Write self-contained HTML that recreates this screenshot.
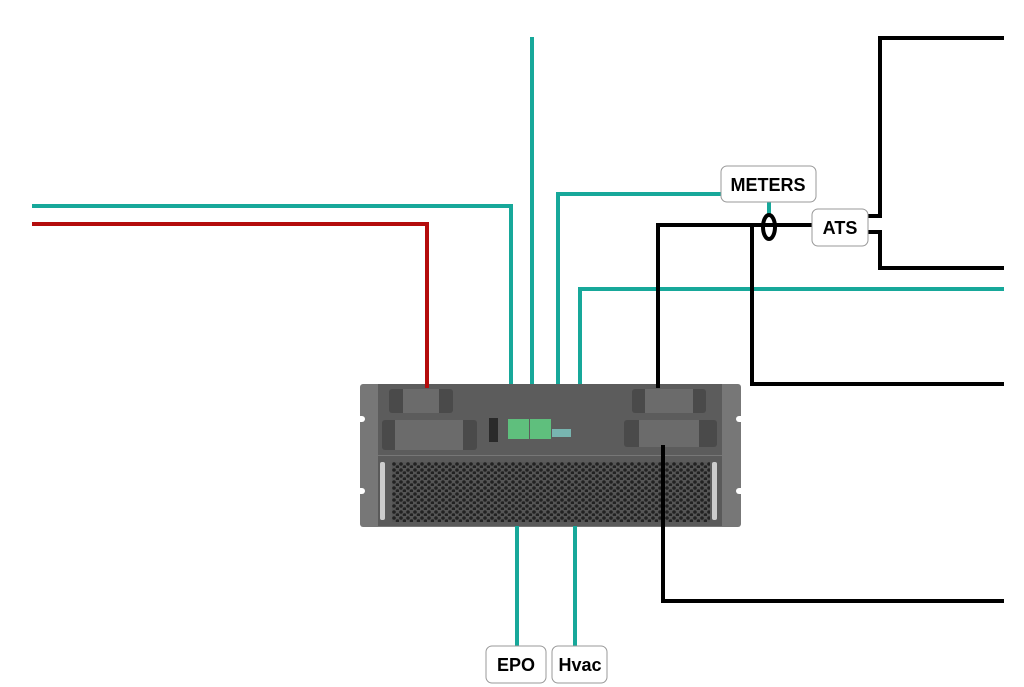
<!DOCTYPE html>
<html><head><style>body{margin:0;background:#fff}svg{display:block}text{font-family:"Liberation Sans",sans-serif;font-weight:bold}</style></head><body>
<svg width="1024" height="687" viewBox="0 0 1024 687">
<defs>
<pattern id="hex" width="7" height="6" patternUnits="userSpaceOnUse"><rect width="7" height="6" fill="#555"/><circle cx="2" cy="2" r="1.8" fill="#222"/><circle cx="5.5" cy="5" r="1.8" fill="#222"/></pattern>
</defs>
<!-- device -->
<rect x="360" y="384" width="381" height="143" rx="3" fill="#777"/>
<rect x="378" y="384" width="344" height="71" fill="#5c5c5c"/>
<rect x="378" y="456" width="344" height="70" fill="#5a5a5a"/>
<rect x="392" y="462" width="318" height="60" fill="url(#hex)"/>
<rect x="380" y="462" width="5" height="58" rx="2" fill="#ccc"/>
<rect x="712" y="462" width="5" height="58" rx="2" fill="#ccc"/>
<g fill="#fff"><rect x="355" y="416" width="10" height="6" rx="3"/><rect x="355" y="488" width="10" height="6" rx="3"/><rect x="736" y="416" width="10" height="6" rx="3"/><rect x="736" y="488" width="10" height="6" rx="3"/></g>
<rect x="389" y="389" width="64" height="24" rx="3" fill="#4a4a4a"/>
<rect x="403" y="389" width="36" height="24" fill="#6b6b6b"/>
<rect x="382" y="420" width="95" height="30" rx="3" fill="#4a4a4a"/>
<rect x="395" y="420" width="68" height="30" fill="#6b6b6b"/>
<rect x="632" y="389" width="74" height="24" rx="3" fill="#4a4a4a"/>
<rect x="645" y="389" width="48" height="24" fill="#6b6b6b"/>
<rect x="624" y="420" width="93" height="27" rx="3" fill="#4a4a4a"/>
<rect x="639" y="420" width="60" height="27" fill="#6b6b6b"/>
<rect x="489" y="418" width="9" height="24" fill="#2a2a2a"/>
<rect x="508" y="419" width="21" height="20" fill="#5fbf7d"/>
<rect x="530" y="419" width="21" height="20" fill="#5fbf7d"/>
<rect x="552" y="429" width="19" height="8" fill="#78b5b0"/>
<g fill="none" stroke-width="4">
<path d="M32 206H511V384M532 37V384M721 194H558V384M1004 289H580V384M769 202V214M517 526V648M575 526V648" stroke="#17a89a"/>
<path d="M32 224H427V388" stroke="#b40c0c"/>
<path d="M658 388V225H812M752 225V384H1004M868 216H880V38H1004M868 232H880V268H1004M663 445V601H1004" stroke="#000"/>
</g>
<ellipse cx="769" cy="227" rx="6" ry="12" fill="none" stroke="#000" stroke-width="4"/>
<g fill="#fff" stroke="#999" stroke-width="1">
<rect x="721" y="166" width="95" height="36" rx="6"/>
<rect x="812" y="209" width="56" height="37" rx="6"/>
<rect x="486" y="646" width="60" height="37" rx="6"/>
<rect x="552" y="646" width="55" height="37" rx="6"/>
</g>
<g font-size="18" text-anchor="middle" fill="#000">
<text x="768" y="191">METERS</text>
<text x="840" y="234">ATS</text>
<text x="516" y="671">EPO</text>
<text x="580" y="671">Hvac</text>
</g>
</svg>
</body></html>
